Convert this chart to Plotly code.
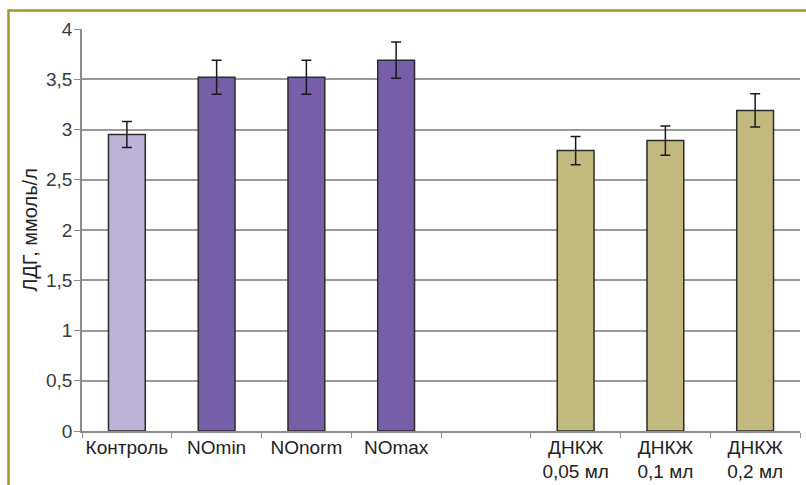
import plotly.graph_objects as go

# Group labels (the fifth slot is an intentional gap between groups)
categories = ["Контроль", "NOmin", "NOnorm", "NOmax", " ",
              "ДНКЖ<br>0,05 мл", "ДНКЖ<br>0,1 мл", "ДНКЖ<br>0,2 мл"]
values = [2.95, 3.52, 3.52, 3.69, None, 2.79, 2.89, 3.19]
errors = [0.13, 0.17, 0.17, 0.18, None, 0.14, 0.145, 0.165]
bar_colors = ["#BDB2D7", "#765EA8", "#765EA8", "#765EA8", "#FFFFFF",
              "#C2B97F", "#C2B97F", "#C2B97F"]
y_ticks = [0, 0.5, 1, 1.5, 2, 2.5, 3, 3.5, 4]

fig = go.Figure()
fig.add_trace(go.Bar(
    x=categories,
    y=values,
    marker=dict(color=bar_colors, line=dict(color="#2b2b2b", width=1.5)),
    error_y=dict(type="data", array=errors, visible=True,
                 color="#1a1a1a", thickness=1.5, width=5),
    width=0.41,
    showlegend=False,
))

fig.update_layout(
    width=806, height=485,
    margin=dict(l=82, r=6, t=29, b=54),
    paper_bgcolor="white",
    plot_bgcolor="white",
    separators=", ",
    font=dict(family="Liberation Sans, Arial, sans-serif", color="#2a2a2a", size=16),
    xaxis=dict(
        type="category",
        categoryorder="array",
        categoryarray=categories,
        tickson="boundaries",
        ticks="outside",
        ticklen=5,
        tickcolor="#8c8c8c",
        tickangle=0,
        ticklabelstandoff=-2,
        automargin=False,
        showline=True,
        linecolor="#8c8c8c",
        linewidth=1.5,
        showgrid=False,
        tickfont=dict(size=19, color="#222222"),
    ),
    yaxis=dict(
        range=[0, 4],
        tickvals=y_ticks,
        ticktext=[f"{v:g}".replace(".", ",") for v in y_ticks],
        ticks="outside",
        ticklen=6,
        tickcolor="#8c8c8c",
        ticklabelstandoff=-2,
        automargin=False,
        showline=True,
        linecolor="#8c8c8c",
        linewidth=1.5,
        showgrid=True,
        gridcolor="#9a9a9a",
        gridwidth=1.5,
        zeroline=False,
        tickfont=dict(size=19, color="#3a3a3a"),
        title=dict(text="ЛДГ, ммоль/л", font=dict(size=20, color="#222222"), standoff=3),
    ),
    shapes=[dict(
        type="rect", xref="paper", yref="paper",
        x0=-0.1024, x1=1.2, y0=-0.3, y1=1.046,
        line=dict(color="#9C982C", width=2.5),
        fillcolor="rgba(0,0,0,0)",
        layer="below",
    )],
)

fig.write_html("out.html")
